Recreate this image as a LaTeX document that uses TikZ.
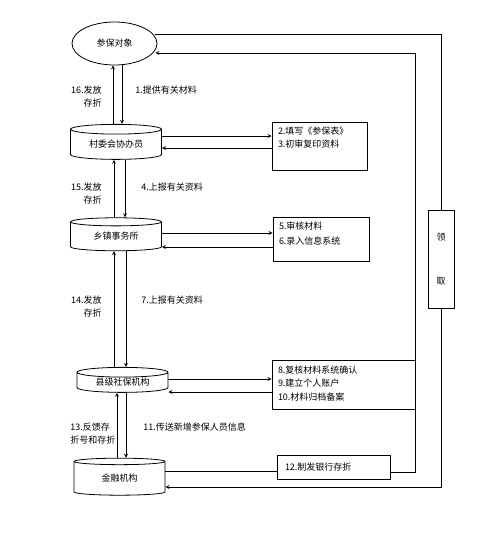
\documentclass[tikz,border=0pt]{standalone}
\usepackage{fontspec}
\setmainfont{Noto Sans CJK SC}
\usetikzlibrary{calc}
\usetikzlibrary{shapes.geometric, arrows}
\tikzstyle{store} = [cylinder,
shape border rotate=90,
aspect=0.18,
minimum width=91pt,
inner sep=0pt,
draw=black,
fill=white]
\tikzstyle{infobox} = [rectangle,
draw=black,
fill=white]
\tikzstyle{boxtext} = [anchor=north west, align=left, inner sep=0pt]
\tikzstyle{steplabel} = [align=left, inner sep=0pt]
\tikzstyle{arrow} = [->,>=stealth]

\begin{document}
\begin{tikzpicture}[x=1pt, y=-1pt, line width=0.8pt, font=\fontsize{9}{13}\selectfont]
    \useasboundingbox (0,0) rectangle (499,536);

    % main column
    \node (object) [ellipse, draw=black, minimum width=85pt, minimum height=43pt] at (114.5,43.5) {参保对象};
    \node (village) [store, minimum height=35pt] at (116,144.5) {村委会协办员};
    \node (town) [store, minimum height=33pt] at (116,236.5) {乡镇事务所};
    \node (county) [store, minimum height=25pt] at (122.5,382.5) {县级社保机构};
    \node (bank) [store, minimum height=37pt] at (119.5,478.5) {金融机构};

    % side boxes
    \node (form) [infobox, minimum width=95pt, minimum height=48pt] at (319.5,146) {};
    \node (formtext) [boxtext] at ([xshift=6pt,yshift=-5pt]form.north west) {2.填写《参保表》\\3.初审复印资料};
    \node (check) [infobox, minimum width=96pt, minimum height=44pt] at (321,239) {};
    \node (checktext) [boxtext] at ([xshift=6pt,yshift=-5pt]check.north west) {5.审核材料\\[2pt]6.录入信息系统};
    \node (account) [infobox, minimum width=143pt, minimum height=49pt] at (343.5,384.5) {};
    \node (accounttext) [boxtext] at ([xshift=6pt,yshift=-6pt]account.north west) {8.复核材料系统确认\\9.建立个人账户\\[1pt]10.材料归档备案};
    \node (passbook) [infobox, minimum width=113pt, minimum height=24pt] at (333.5,467) {};
    \node (passbooktext) [steplabel, anchor=west] at ([xshift=8pt]passbook.west) {12.制发银行存折};
    \node (collect) [infobox, minimum width=26pt, minimum height=98pt, align=center] at (441,259) {领\\[31pt]取};

    % labels
    \node (give16) [steplabel, anchor=east, align=right] at (102,96.5) {16.发放\\存折};
    \node (send1) [steplabel, anchor=west] at (135,90) {1.提供有关材料};
    \node (give15) [steplabel, anchor=east, align=right] at (102,194) {15.发放\\存折};
    \node (send4) [steplabel, anchor=west] at (141,187) {4.上报有关资料};
    \node (give14) [steplabel, anchor=east, align=right] at (102,307) {14.发放\\存折};
    \node (send7) [steplabel, anchor=west] at (141,300) {7.上报有关资料};
    \node (back13) [steplabel, anchor=west] at (70,433.5) {13.反馈存\\折号和存折};
    \node (send11) [steplabel, anchor=west] at (143,427) {11.传送新增参保人员信息};

    % vertical arrows
    \draw [arrow] ([xshift=-3pt]village.north) -- ([xshift=-3pt]village.north |- object.south);
    \draw [arrow] ([xshift=7.5pt]object.south) -- ([xshift=7.5pt]object.south |- village.north);
    \draw [arrow] ([xshift=-2pt]town.north) -- ([xshift=-2pt]town.north |- village.south);
    \draw [arrow] ([xshift=9pt]village.south) -- ([xshift=9pt]village.south |- town.north);
    \draw [arrow] ([xshift=-2pt]town.south |- county.north) -- ([xshift=-2pt]town.south);
    \draw [arrow] ([xshift=10pt]town.south) -- ([xshift=10pt]town.south |- county.north);
    \draw [arrow] ([xshift=-5.5pt]county.south |- bank.north) -- ([xshift=-5.5pt]county.south);
    \draw [arrow] ([xshift=3.5pt]county.south) -- ([xshift=3.5pt]county.south |- bank.north);

    % horizontal arrows
    \draw [arrow] ([yshift=8.5pt]village.east) -- ([yshift=8.5pt]village.east -| form.west);
    \draw [arrow] ([yshift=-3.5pt]village.east -| form.west) -- ([yshift=-3.5pt]village.east);
    \draw [arrow] ([yshift=3.5pt]town.east) -- ([yshift=3.5pt]town.east -| check.west);
    \draw [arrow] ([yshift=-10.5pt]town.east -| check.west) -- ([yshift=-10.5pt]town.east);
    \draw [arrow] ([yshift=3.5pt]county.east) -- ([yshift=3.5pt]county.east -| account.west);
    \draw [arrow] ([yshift=-9.5pt]county.east -| account.west) -- ([yshift=-9.5pt]county.east);
    \draw ([yshift=7.5pt]bank.east) -- ([yshift=7.5pt]bank.east -| passbook.west);

    % return loops
    \draw [arrow] ([yshift=-5pt]passbook.east) -| ($(account.east |- object.east)+(0,9.5)$) -- ($(object.east)+(-2,9.5)$);
    \draw ($(object.east)+(-2,-9.5)$) -| (collect.north);
    \draw [arrow] (collect.south) |- ($(bank.east)+(0,8.5)$);
\end{tikzpicture}
\end{document}
